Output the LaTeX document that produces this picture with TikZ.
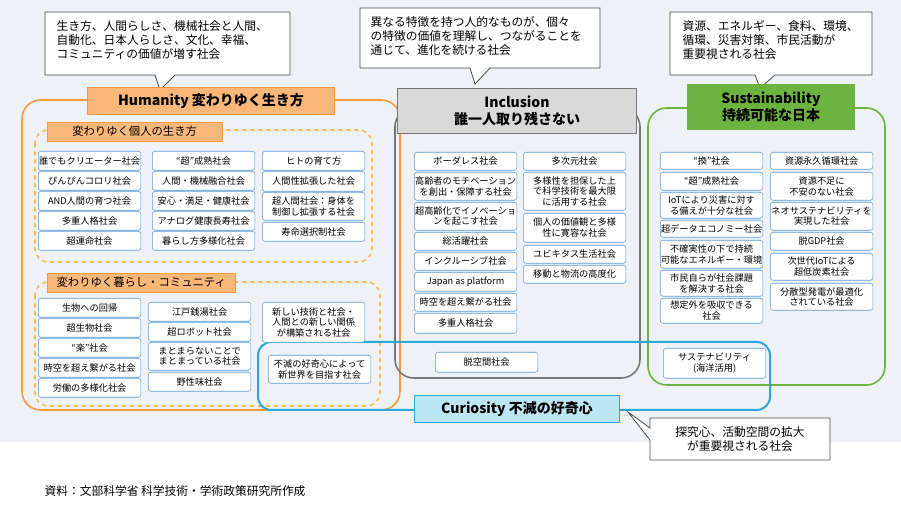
\documentclass[tikz,border=0pt]{standalone}
\usepackage{fontspec}
\setmainfont{Noto Sans CJK JP}
\newfontfamily\jp{Noto Sans CJK JP}
\definecolor{bgpanel}{HTML}{EEF2F7}
\definecolor{boxblue}{HTML}{5B9BD5}
\definecolor{humorange}{HTML}{F39A3C}
\definecolor{humfill}{HTML}{F9B77A}
\definecolor{dashorange}{HTML}{F6BB4B}
\definecolor{incgrey}{HTML}{767676}
\definecolor{incfill}{HTML}{D9D9D9}
\definecolor{susgreen}{HTML}{6DB33F}
\definecolor{curcyan}{HTML}{2AA9D9}
\definecolor{curfill}{HTML}{BDE6F5}
\tikzset{
  item/.style={draw=boxblue, fill=white, rounded corners=2pt, align=center,
    anchor=north west, minimum width=77pt, inner sep=0.5pt,
    font=\fontsize{6.9}{7.9}\selectfont},
  callout/.style={draw=black!70, fill=white, line width=0.6pt},
  calltext/.style={align=left, font=\fontsize{8.8}{10.6}\selectfont},
  tag/.style={draw=humorange, fill=humfill, anchor=north west, inner sep=0pt,
    font=\fontsize{8.5}{10}\selectfont}
}
\newcommand\itm[5]{\node[item, minimum height=#4*0.75pt] (#1) at (#2,#3) {#5};}
\begin{document}
\begin{tikzpicture}[x=0.75pt, y=-0.75pt]
\useasboundingbox (0,0) rectangle (901,516);
\fill[bgpanel] (0,0) rectangle (901,442);

% callouts
\draw[callout] (45,12) -- (290,12) -- (290,75) -- (175,75) -- (160,90) -- (155,75) -- (45,75) -- cycle;
\node[calltext, anchor=north west] (callh) at (52,16) {生き方、人間らしさ、機械社会と人間、\\自動化、日本人らしさ、文化、幸福、\\コミュニティの価値が増す社会};
\draw[callout] (360,8) -- (600,8) -- (600,68) -- (490,68) -- (475,84) -- (470,68) -- (360,68) -- cycle;
\node[calltext, anchor=north west] (calli) at (366,12) {異なる特徴を持つ人的なものが、個々\\の特徴の価値を理解し、つながることを\\通じて、進化を続ける社会};
\draw[callout] (670,12) -- (872,12) -- (872,75) -- (775,75) -- (760,88) -- (755,75) -- (670,75) -- cycle;
\node[calltext, anchor=north west] (calls) at (678,16) {資源、エネルギー、食料、環境、\\循環、災害対策、市民活動が\\重要視される社会};

% frames
\draw[humorange, line width=1.2pt, rounded corners=14pt] (22,100) rectangle (400,410);
\draw[incgrey, line width=1.2pt, rounded corners=14pt] (395,108) rectangle (640,378);
\draw[susgreen, line width=1.2pt, rounded corners=14pt] (648,108) rectangle (885,385);
\draw[dashorange, dashed, line width=1.2pt, rounded corners=10pt] (35,130) rectangle (372,262);
\draw[dashorange, dashed, line width=1.2pt, rounded corners=10pt] (35,282) rectangle (380,406);
\draw[curcyan, line width=1.5pt, rounded corners=10pt] (258,342) rectangle (770,410);

% titles
\node[draw=humorange, fill=humfill, line width=0.8pt, minimum width=185pt, minimum height=20pt,
  font=\bfseries\fontsize{10.5}{12}\selectfont] (humt) at (211,101) {Humanity 変わりゆく生き方};
\node[draw=incgrey, fill=incfill, line width=1pt, minimum width=179pt, minimum height=34pt, align=center,
  font=\bfseries\fontsize{10.5}{12.5}\selectfont] (inct) at (517,111) {Inclusion\\誰一人取り残さない};
\node[draw=susgreen, fill=susgreen, line width=1pt, minimum width=125pt, minimum height=34pt, align=center,
  font=\bfseries\fontsize{10.5}{12.5}\selectfont] (sust) at (771,107) {Sustainability\\持続可能な日本};
\node[tag, minimum width=131pt, minimum height=14pt] (tag1) at (47,122) {変わりゆく個人の生き方};
\node[tag, minimum width=141pt, minimum height=14pt] (tag2) at (47,273) {変わりゆく暮らし・コミュニティ};

% humanity: individuals
\itm{h1}{38}{151}{19}{誰でもクリエーター社会}
\itm{h2}{38}{171}{19}{ぴんぴんコロリ社会}
\itm{h3}{38}{191}{19}{AND人間の育つ社会}
\itm{h4}{38}{211}{19}{多重人格社会}
\itm{h5}{38}{231}{19}{超運命社会}
\itm{h6}{152}{151}{19}{“超”成熟社会}
\itm{h7}{152}{171}{19}{人間・機械融合社会}
\itm{h8}{152}{191}{19}{安心・満足・健康社会}
\itm{h9}{152}{211}{19}{アナログ健康長寿社会}
\itm{h10}{152}{231}{19}{暮らし方多様化社会}
\itm{h11}{262}{151}{19}{ヒトの育て方}
\itm{h12}{262}{171}{20}{人間性拡張した社会}
\itm{h13}{262}{192}{28}{超人間社会：身体を\\制御し拡張する社会}
\itm{h14}{262}{222}{19}{寿命選択制社会}
% humanity: community
\itm{c1}{38}{298}{19}{生物への回帰}
\itm{c2}{38}{318}{19}{超生物社会}
\itm{c3}{38}{338}{19}{“楽”社会}
\itm{c4}{38}{358}{19}{時空を超え繋がる社会}
\itm{c5}{38}{378}{19}{労働の多様化社会}
\itm{c6}{148}{302}{19}{江戸銭湯社会}
\itm{c7}{148}{322}{19}{超ロボット社会}
\itm{c8}{148}{342}{28}{まとまらないことで\\まとまっている社会}
\itm{c9}{148}{372}{19}{野性味社会}
\itm{c10}{262}{302}{40}{新しい技術と社会・\\人間との新しい関係\\が構築される社会}
\itm{c11}{268}{355}{28}{不滅の好奇心によって\\新世界を目指す社会}

% inclusion
\itm{i1}{414}{152}{18}{ボーダレス社会}
\itm{i2}{414}{172}{28}{高齢者のモチベーション\\を創出・保障する社会}
\itm{i3}{414}{202}{28}{超高齢化でイノベーショ\\ンを起こす社会}
\itm{i4}{414}{232}{18}{総活躍社会}
\itm{i5}{414}{252}{18}{インクルーシブ社会}
\itm{i6}{414}{272}{19}{Japan as platform}
\itm{i7}{414}{293}{18}{時空を超え繋がる社会}
\itm{i8}{414}{313}{20}{多重人格社会}
\itm{i9}{523}{152}{18}{多次元社会}
\itm{i10}{523}{172}{38}{多様性を担保した上\\で科学技術を最大限\\に活用する社会}
\itm{i11}{523}{213}{29}{個人の価値観と多様\\性に寛容な社会}
\itm{i12}{523}{245}{18}{ユビキタス生活社会}
\itm{i13}{523}{265}{18}{移動と物流の高度化}
\itm{i14}{435}{352}{20}{脱空間社会}

% sustainability
\itm{s1}{660}{152}{17}{“換”社会}
\itm{s2}{660}{172}{18}{“超”成熟社会}
\itm{s3}{660}{192}{26}{IoTにより災害に対す\\る備えが十分な社会}
\itm{s4}{660}{220}{17}{超データエコノミー社会}
\itm{s5}{660}{240}{28}{不確実性の下で持続\\可能なエネルギー・環境}
\itm{s6}{660}{270}{26}{市民自らが社会課題\\を解決する社会}
\itm{s7}{660}{298}{25}{想定外を吸収できる\\社会}
\itm{s8}{770}{152}{17}{資源永久循環社会}
\itm{s9}{770}{172}{28}{資源不足に\\不安のない社会}
\itm{s10}{770}{202}{28}{ネオサステナビリティを\\実現した社会}
\itm{s11}{770}{232}{18}{脱GDP社会}
\itm{s12}{770}{253}{27}{次世代IoTによる\\超低炭素社会}
\itm{s13}{770}{283}{27}{分散型発電が最適化\\されている社会}
\itm{s14}{663}{348}{30}{サステナビリティ\\(海洋活用)}

% curiosity
\node[draw=curcyan, fill=curfill, line width=1pt, minimum width=154pt, minimum height=20pt,
  font=\bfseries\fontsize{10.5}{12}\selectfont] (curt) at (517,409) {Curiosity 不滅の好奇心};
\draw[callout] (650,418) -- (830,418) -- (830,460) -- (650,460) -- (650,440) -- (628,412) -- (650,428) -- cycle;
\node[calltext, align=center] (callc) at (740,439) {探究心、活動空間の拡大\\が重要視される社会};

% source
\node[anchor=west, font=\fontsize{8.8}{10}\selectfont] (src) at (40,491) {資料：文部科学省 科学技術・学術政策研究所作成};
\end{tikzpicture}
\end{document}
